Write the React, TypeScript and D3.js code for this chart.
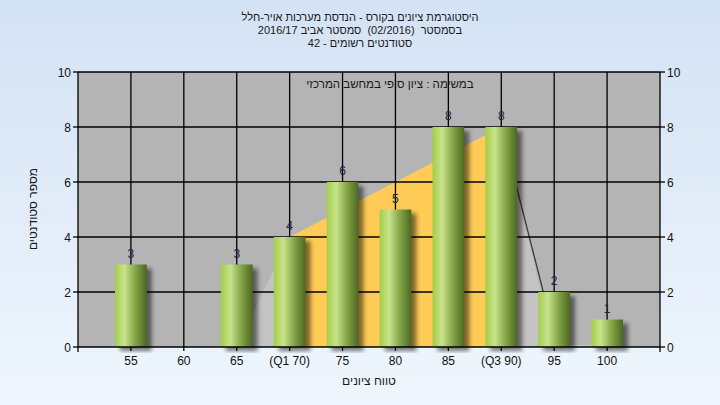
import React from "react";
import * as d3 from "d3";

const categories = [55, 60, 65, 70, 75, 80, 85, 90, 95, 100];
const tickLabels = ["55", "60", "65", "(Q1 70)", "75", "80", "85", "(Q3 90)", "95", "100"];
const counts = [3, 0, 3, 4, 6, 5, 8, 8, 2, 1];
const yTicks = [0, 2, 4, 6, 8, 10];
// light gray range shape (whisker area) and interquartile yellow area
const rangeShape: [number, number][] = [[65, 0], [70, 4], [90, 8], [95, 0], [100, 0]];
const iqrShape: [number, number][] = [[70, 0], [70, 4], [90, 8], [90, 0]];
const rangeLine: [number, number][] = [[90, 8], [95.3, 0]];

const titleLines = [
  "היסטוגרמת ציונים בקורס - הנדסת מערכות אויר-חלל",
  "בסמסטר\u00a0\u00a0(02/2016)\u00a0\u00a0סמסטר אביב 2016/17",
  "סטודנטים רשומים - 42",
];
const subTitle = "במשימה : ציון סופי במחשב המרכזי";
const yTitle = "מספר סטודנטים";
const xTitle = "טווח ציונים";

const W = 720, H = 405;
const L = 78, R = 660, T = 72, B = 347;
const FONT = "'Liberation Sans', 'DejaVu Sans', sans-serif";

export default function App() {
  const x = d3.scaleLinear().domain([50, 105]).range([L, R]);
  const y = d3.scaleLinear().domain([0, 10]).range([B, T]);
  const bw = x(53) - x(50);
  const poly = d3.line<[number, number]>().x(d => x(d[0])).y(d => y(d[1]));

  return (
    <svg width={W} height={H} style={{ position: "absolute", left: 0, top: 0 }}>
      <defs>
        <linearGradient id="bg" x1="0" y1="0" x2="0" y2="1">
          <stop offset="0%" stopColor="#d3e2f4" />
          <stop offset="100%" stopColor="#eff6fd" />
        </linearGradient>
        <linearGradient id="bar" x1="0" y1="0" x2="1" y2="0">
          <stop offset="0%" stopColor="#a3cd48" />
          <stop offset="30%" stopColor="#c8e38c" />
          <stop offset="65%" stopColor="#82a346" />
          <stop offset="100%" stopColor="#4d6722" />
        </linearGradient>
        <filter id="shadow" x="-50%" y="-50%" width="200%" height="200%">
          <feGaussianBlur stdDeviation="2" />
        </filter>
        <clipPath id="plotClip">
          <rect x={L} y={T - 20} width={R - L} height={B - T + 26} />
        </clipPath>
      </defs>
      <rect x={0} y={0} width={W} height={H} fill="url(#bg)" />
      <rect x={L} y={T} width={R - L} height={B - T} fill="#b4b4b4" />

      <path d={poly(rangeShape) + "Z"} fill="#c3c3c3" />
      <path d={poly(iqrShape) + "Z"} fill="#fecb57" />
      <path d={poly(rangeLine) || ""} stroke="#333" strokeWidth={1.2} fill="none" />
      <line x1={x(95)} x2={x(100)} y1={B - 1} y2={B - 1} stroke="#dcdcdc" strokeWidth={1} />

      {yTicks.filter(v => v > 0).map(v => (
        <line key={"h" + v} x1={L} x2={R} y1={y(v)} y2={y(v)} stroke="#000" strokeWidth={1.3} />
      ))}
      {categories.map(c => (
        <line key={"v" + c} x1={x(c)} x2={x(c)} y1={T} y2={B} stroke="#000" strokeWidth={1.3} />
      ))}

      <g clipPath="url(#plotClip)">
        {categories.map((c, i) => counts[i] > 0 ? (
          <rect key={"s" + c} x={x(c) - bw / 2 + 5} y={y(counts[i]) + 4} width={bw} height={B - y(counts[i])}
            fill="#000" opacity={0.5} filter="url(#shadow)" />
        ) : null)}
      </g>
      {categories.map((c, i) => counts[i] > 0 ? (
        <rect key={"b" + c} x={x(c) - bw / 2} y={y(counts[i])} width={bw} height={B - y(counts[i])} fill="url(#bar)" />
      ) : null)}
      {categories.map((c, i) => counts[i] > 0 ? (
        <text key={"l" + c} x={x(c)} y={y(counts[i]) - 7} textAnchor="middle" fontFamily={FONT} fontSize={12} fill="#1c2340">
          {counts[i]}
        </text>
      ) : null)}

      <line x1={L} x2={L} y1={T} y2={B + 5} stroke="#000" strokeWidth={1.3} />
      <line x1={R} x2={R} y1={T} y2={B + 5} stroke="#000" strokeWidth={1.3} />
      <line x1={L} x2={R} y1={B} y2={B} stroke="#000" strokeWidth={1.3} />
      {yTicks.map(v => (
        <g key={"yt" + v}>
          <line x1={L - 5} x2={L} y1={y(v)} y2={y(v)} stroke="#000" strokeWidth={1.3} />
          <line x1={R} x2={R + 5} y1={y(v)} y2={y(v)} stroke="#000" strokeWidth={1.3} />
          <text x={L - 7} y={y(v) + 4.5} textAnchor="end" fontFamily={FONT} fontSize={12} fill="#111">{v}</text>
          <text x={R + 7} y={y(v) + 4.5} textAnchor="start" fontFamily={FONT} fontSize={12} fill="#111">{v}</text>
        </g>
      ))}
      {categories.map((c, i) => (
        <g key={"xt" + c}>
          <line x1={x(c)} x2={x(c)} y1={B} y2={B + 4} stroke="#000" strokeWidth={1.3} />
          <text x={x(c)} y={B + 18} textAnchor="middle" fontFamily={FONT} fontSize={12} fill="#111">{tickLabels[i]}</text>
        </g>
      ))}

      {titleLines.map((t, i) => (
        <text key={"t" + i} x={360} y={21 + i * 13} textAnchor="middle" direction="rtl" fontFamily={FONT} fontSize={11} fill="#1a1a1a">{t}</text>
      ))}
      <text x={390} y={88} textAnchor="middle" direction="rtl" fontFamily={FONT} fontSize={11.5} fill="#1a1a1a">{subTitle}</text>
      <text x={369} y={385} textAnchor="middle" direction="rtl" fontFamily={FONT} fontSize={12} fill="#1a1a1a">{xTitle}</text>
      <text transform={`translate(37, 209) rotate(-90)`} textAnchor="middle" direction="rtl" fontFamily={FONT} fontSize={12} fill="#1a1a1a">{yTitle}</text>
    </svg>
  );
}
